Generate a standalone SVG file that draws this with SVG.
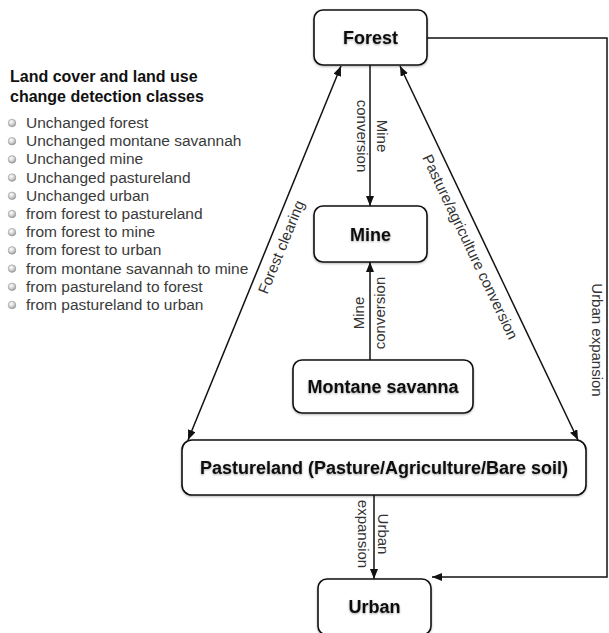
<svg xmlns="http://www.w3.org/2000/svg" width="609" height="633" viewBox="0 0 609 633">
<style>
.box{fill:#fff;stroke:#111;stroke-width:1.6;filter:url(#sh)}
.name{font-family:"Liberation Sans",Arial,sans-serif;font-weight:bold;font-size:18px;fill:#111;text-anchor:middle;filter:url(#tsh)}
.conn{stroke:#111;stroke-width:1.5;fill:none}
.lbl{font-family:"Liberation Sans",Arial,sans-serif;font-size:15px;fill:#333;text-anchor:middle}
.leg{font-family:"Liberation Sans",Arial,sans-serif;font-size:15.5px;fill:#3a3a3a}
.title{font-family:"Liberation Sans",Arial,sans-serif;font-size:16px;font-weight:bold;fill:#111}
.bul{fill:url(#bg);stroke:#999;stroke-width:0.6}
</style>
<defs>
<marker id="ah" markerUnits="userSpaceOnUse" markerWidth="10" markerHeight="8" refX="10" refY="4" orient="auto-start-reverse">
<path d="M0,0 L10,4 L0,8 z" fill="#111"/>
</marker>
<filter id="sh" x="-10%" y="-10%" width="120%" height="130%">
<feDropShadow dx="0" dy="1" stdDeviation="1.2" flood-opacity="0.3"/>
</filter>
<filter id="tsh" x="-5%" y="-20%" width="110%" height="150%">
<feDropShadow dx="0" dy="1" stdDeviation="0.8" flood-opacity="0.35"/>
</filter>
<radialGradient id="bg" cx="0.4" cy="0.35" r="0.7">
<stop offset="0" stop-color="#fff"/>
<stop offset="0.6" stop-color="#ccc"/>
<stop offset="1" stop-color="#888"/>
</radialGradient>
</defs>
<rect width="609" height="633" fill="#fff"/>

<g id="legend">
<text class="title" x="10" y="82">Land cover and land use</text>
<text class="title" x="10" y="102">change detection classes</text>
<circle class="bul" cx="12" cy="123" r="3.8"/><text class="leg" x="26" y="128">Unchanged forest</text>
<circle class="bul" cx="12" cy="141.2" r="3.8"/><text class="leg" x="26" y="146.2">Unchanged montane savannah</text>
<circle class="bul" cx="12" cy="159.4" r="3.8"/><text class="leg" x="26" y="164.4">Unchanged mine</text>
<circle class="bul" cx="12" cy="177.6" r="3.8"/><text class="leg" x="26" y="182.6">Unchanged pastureland</text>
<circle class="bul" cx="12" cy="195.8" r="3.8"/><text class="leg" x="26" y="200.8">Unchanged urban</text>
<circle class="bul" cx="12" cy="214" r="3.8"/><text class="leg" x="26" y="219">from forest to pastureland</text>
<circle class="bul" cx="12" cy="232.2" r="3.8"/><text class="leg" x="26" y="237.2">from forest to mine</text>
<circle class="bul" cx="12" cy="250.4" r="3.8"/><text class="leg" x="26" y="255.4">from forest to urban</text>
<circle class="bul" cx="12" cy="268.6" r="3.8"/><text class="leg" x="26" y="273.6">from montane savannah to mine</text>
<circle class="bul" cx="12" cy="286.8" r="3.8"/><text class="leg" x="26" y="291.8">from pastureland to forest</text>
<circle class="bul" cx="12" cy="305" r="3.8"/><text class="leg" x="26" y="310">from pastureland to urban</text>
</g>

<g id="connectors">
<line class="conn" x1="370" y1="65" x2="370" y2="206" marker-end="url(#ah)"/>
<line class="conn" x1="370" y1="360" x2="370" y2="262" marker-end="url(#ah)"/>
<line class="conn" x1="341" y1="66" x2="188" y2="440" marker-start="url(#ah)" marker-end="url(#ah)"/>
<line class="conn" x1="400" y1="66" x2="578" y2="440" marker-start="url(#ah)" marker-end="url(#ah)"/>
<line class="conn" x1="374" y1="495" x2="374" y2="579" marker-end="url(#ah)"/>
<path class="conn" d="M427,38 H607 V577 H432" marker-end="url(#ah)"/>
<text class="lbl" transform="translate(370,136) rotate(90)"><tspan x="0" y="-7">Mine</tspan><tspan x="0" y="13">conversion</tspan></text>
<text class="lbl" transform="translate(370,313) rotate(-90)"><tspan x="0" y="-6">Mine</tspan><tspan x="0" y="15">conversion</tspan></text>
<text class="lbl" transform="translate(374,534) rotate(90)"><tspan x="0" y="-4">Urban</tspan><tspan x="0" y="16">expansion</tspan></text>
<text class="lbl" transform="translate(592,340) rotate(90)">Urban expansion</text>
<text class="lbl" transform="translate(286,249) rotate(-67.75)">Forest clearing</text>
<text class="lbl" transform="translate(465.5,249) rotate(64.55)">Pasture/agriculture conversion</text>
</g>

<g id="forest">
<rect class="box" x="314" y="10" width="113" height="55" rx="9"/>
<text class="name" x="370.5" y="44">Forest</text>
</g>
<g id="mine">
<rect class="box" x="314" y="206" width="113" height="56" rx="9"/>
<text class="name" x="370.5" y="240.5">Mine</text>
</g>
<g id="montane-savanna">
<rect class="box" x="293" y="360" width="180" height="53" rx="9"/>
<text class="name" x="383" y="393">Montane savanna</text>
</g>
<g id="pastureland">
<rect class="box" x="182" y="440" width="404" height="55" rx="10"/>
<text class="name" x="384" y="474">Pastureland (Pasture/Agriculture/Bare soil)</text>
</g>
<g id="urban">
<rect class="box" x="318" y="579" width="113" height="56" rx="9"/>
<text class="name" x="374.5" y="613">Urban</text>
</g>
</svg>
